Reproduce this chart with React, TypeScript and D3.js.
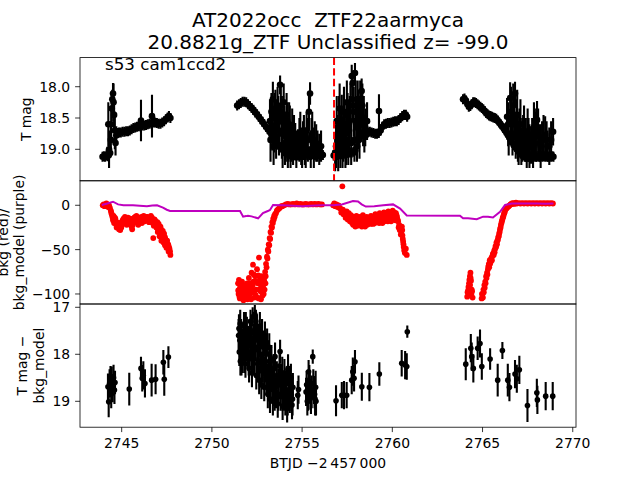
import React from 'react';
import * as d3 from 'd3';

// ---------- DATA ----------
// Top panel: TESS light curve [BTJD-2457000, T mag, error]
const lightCurve: [number, number, number][] = [
  [2743.94,19.12,0.08],[2744.01,19.11,0.08],[2744.08,19.12,0.08],[2744.15,19.10,0.08],[2744.22,19.11,0.08],[2744.29,19.09,0.08],[2744.36,19.06,0.08],
  [2744.26,18.60,0.35],[2744.30,19.00,0.30],[2744.40,18.85,0.25],[2744.42,18.60,0.30],[2744.45,18.35,0.20],[2744.48,18.20,0.15],[2744.52,18.11,0.17],
  [2744.55,18.25,0.30],[2744.58,18.45,0.25],[2744.62,18.70,0.30],[2744.66,18.90,0.20],[2744.70,18.78,0.15],
  [2744.75,18.74,0.08],[2744.85,18.73,0.08],[2744.95,18.73,0.08],[2745.05,18.72,0.08],[2745.15,18.72,0.08],[2745.25,18.71,0.08],[2745.35,18.71,0.08],
  [2745.45,18.70,0.08],[2745.55,18.68,0.08],[2745.65,18.66,0.08],[2745.75,18.65,0.08],[2745.85,18.64,0.08],[2745.95,18.63,0.08],[2746.05,18.63,0.08],
  [2746.07,18.54,0.33],[2746.15,18.62,0.08],[2746.25,18.62,0.08],[2746.35,18.61,0.08],[2746.45,18.60,0.08],[2746.55,18.59,0.08],[2746.65,18.58,0.08],
  [2746.68,18.47,0.34],[2746.75,18.57,0.08],[2746.85,18.57,0.08],[2746.95,18.58,0.08],[2747.05,18.59,0.08],[2747.15,18.59,0.08],[2747.25,18.57,0.08],
  [2747.35,18.55,0.08],[2747.45,18.52,0.08],[2747.55,18.49,0.08],[2747.62,18.47,0.08],[2747.70,18.50,0.08],
  [2751.40,18.30,0.08],[2751.50,18.28,0.08],[2751.60,18.26,0.08],[2751.70,18.24,0.08],[2751.80,18.24,0.08],[2751.90,18.25,0.08],[2752.00,18.28,0.08],
  [2752.10,18.31,0.08],[2752.20,18.34,0.08],[2752.30,18.37,0.08],[2752.40,18.41,0.08],[2752.50,18.44,0.08],[2752.60,18.48,0.08],[2752.70,18.52,0.08],
  [2752.80,18.56,0.08],[2752.90,18.60,0.08],[2753.00,18.64,0.08],[2753.10,18.68,0.08],[2753.20,18.72,0.08],[2753.30,18.76,0.08],[2753.40,18.80,0.08],
  [2753.50,18.85,0.08],[2753.60,18.89,0.08],[2753.70,18.93,0.08],[2753.80,18.97,0.08],[2753.90,19.00,0.08],[2754.00,19.03,0.08],[2754.10,19.05,0.08],
  [2754.20,19.07,0.08],[2754.30,19.08,0.08],[2754.40,19.08,0.08],[2754.50,19.09,0.08],[2754.60,19.09,0.08],[2754.70,19.08,0.08],[2754.80,19.09,0.08],
  [2754.90,19.09,0.08],[2755.00,19.08,0.08],[2755.10,19.09,0.08],[2755.20,19.09,0.08],[2755.30,19.08,0.08],[2755.40,19.09,0.08],[2755.50,19.09,0.08],
  [2755.60,19.08,0.08],[2755.70,19.09,0.08],[2755.80,19.09,0.08],[2755.90,19.08,0.08],[2756.00,19.09,0.08],[2756.10,19.08,0.08],[2756.15,19.09,0.08],
  [2753.22,18.55,0.35],[2753.30,18.40,0.30],[2753.38,18.20,0.28],[2753.45,18.70,0.35],[2753.52,18.35,0.30],[2753.60,18.60,0.40],[2753.68,18.50,0.35],
  [2753.78,17.97,0.15],[2753.82,18.30,0.30],[2753.88,18.75,0.40],[2753.95,18.45,0.30],[2754.02,18.65,0.35],[2754.10,18.80,0.40],[2754.18,18.55,0.30],
  [2754.25,18.85,0.35],[2754.32,18.70,0.40],[2754.40,18.90,0.30],[2754.50,18.95,0.30],[2754.62,18.88,0.30],[2754.77,18.93,0.25],[2754.85,18.85,0.35],
  [2754.95,18.95,0.30],[2755.05,18.85,0.30],[2755.15,18.95,0.30],[2755.25,18.70,0.30],[2755.38,18.40,0.30],[2755.44,18.11,0.18],[2755.52,18.80,0.30],
  [2755.60,18.90,0.25],[2755.70,18.85,0.30],[2755.85,18.95,0.25],
  [2753.25,18.85,0.35],[2753.34,18.62,0.40],[2753.42,18.95,0.30],[2753.48,18.50,0.40],[2753.56,18.80,0.35],[2753.64,18.35,0.35],[2753.72,18.70,0.40],
  [2753.85,18.55,0.40],[2753.92,18.95,0.35],[2753.98,18.25,0.30],[2754.05,18.90,0.35],[2754.14,18.45,0.35],[2754.21,18.95,0.35],[2754.28,18.60,0.35],
  [2754.36,18.95,0.35],[2754.45,18.70,0.35],[2754.55,18.80,0.35],[2754.68,19.00,0.30],[2754.90,18.75,0.35],[2755.00,19.00,0.30],[2755.10,18.80,0.35],
  [2755.20,19.00,0.30],[2755.32,18.85,0.35],[2755.48,19.00,0.30],[2755.56,18.75,0.35],[2755.65,19.00,0.30],[2755.78,18.90,0.30],[2755.95,19.00,0.25],
  [2756.05,18.95,0.25],
  [2756.75,19.10,0.08],[2756.85,19.10,0.08],[2756.95,19.09,0.08],[2757.05,19.08,0.08],[2757.15,19.08,0.08],[2757.25,19.07,0.08],[2757.35,19.07,0.08],
  [2757.45,19.06,0.08],[2757.55,19.06,0.08],[2757.65,19.05,0.08],[2757.75,19.05,0.08],[2757.85,19.04,0.08],[2757.95,19.02,0.08],[2758.05,18.95,0.08],
  [2758.15,18.85,0.08],[2758.25,18.78,0.08],[2758.35,18.75,0.08],[2758.45,18.74,0.08],[2758.55,18.73,0.08],[2758.65,18.73,0.08],[2758.75,18.72,0.08],
  [2758.85,18.73,0.08],[2758.95,18.74,0.08],[2759.05,18.75,0.08],[2759.15,18.75,0.08],[2759.25,18.74,0.08],[2759.35,18.70,0.08],[2759.45,18.64,0.08],
  [2759.55,18.60,0.08],[2759.65,18.59,0.08],[2759.75,18.58,0.08],[2759.85,18.58,0.08],[2759.95,18.57,0.08],[2760.05,18.56,0.08],[2760.15,18.55,0.08],
  [2760.25,18.55,0.08],[2760.35,18.53,0.08],[2760.45,18.50,0.08],[2760.55,18.47,0.08],[2760.65,18.45,0.08],[2760.75,18.45,0.08],[2760.82,18.48,0.08],
  [2756.83,19.05,0.30],[2756.95,18.80,0.35],[2757.05,18.60,0.45],[2757.12,18.90,0.40],[2757.20,18.53,0.40],[2757.28,18.75,0.45],[2757.36,18.60,0.35],
  [2757.44,18.85,0.40],[2757.52,18.45,0.35],[2757.60,18.70,0.40],[2757.68,18.30,0.35],[2757.75,17.83,0.18],[2757.80,17.94,0.20],[2757.86,18.40,0.40],
  [2757.93,17.78,0.16],[2758.00,18.60,0.45],[2758.08,18.20,0.30],[2758.15,18.55,0.40],[2758.22,18.25,0.35],[2758.30,18.07,0.20],[2758.38,18.60,0.35],
  [2758.45,18.75,0.30],[2759.26,18.39,0.27],
  [2756.88,18.95,0.35],[2756.92,18.55,0.40],[2757.00,19.00,0.35],[2757.08,18.35,0.40],[2757.16,18.75,0.40],[2757.24,18.95,0.35],[2757.32,18.40,0.40],
  [2757.40,18.95,0.35],[2757.48,18.25,0.35],[2757.56,18.90,0.35],[2757.64,18.55,0.40],[2757.72,18.90,0.35],[2757.78,18.20,0.35],[2757.90,18.85,0.35],
  [2757.97,18.30,0.40],[2758.04,18.85,0.35],[2758.11,18.45,0.40],[2758.18,18.80,0.35],[2758.26,18.45,0.35],[2758.34,18.30,0.35],[2758.42,18.50,0.35],
  [2758.50,18.65,0.30],[2758.60,18.55,0.30],
  [2763.92,18.20,0.08],[2764.00,18.19,0.08],[2764.08,18.22,0.08],[2764.16,18.28,0.08],[2764.24,18.32,0.08],[2764.32,18.31,0.08],[2764.40,18.28,0.08],
  [2764.48,18.25,0.08],[2764.56,18.25,0.08],[2764.64,18.26,0.08],[2764.72,18.28,0.08],[2764.80,18.30,0.08],[2764.88,18.32,0.08],[2764.96,18.34,0.08],
  [2765.04,18.36,0.08],[2765.12,18.39,0.08],[2765.20,18.42,0.08],[2765.28,18.44,0.08],[2765.36,18.46,0.08],[2765.44,18.47,0.08],[2765.52,18.48,0.08],
  [2765.60,18.49,0.08],[2765.68,18.50,0.08],[2765.76,18.51,0.08],[2765.84,18.54,0.08],[2765.92,18.57,0.08],[2766.00,18.60,0.08],[2766.08,18.63,0.08],
  [2766.16,18.66,0.08],[2766.24,18.70,0.08],[2766.32,18.73,0.08],[2766.40,18.77,0.08],[2766.48,18.81,0.08],[2766.56,18.85,0.08],[2766.64,18.89,0.08],
  [2766.72,18.93,0.08],[2766.80,18.96,0.08],[2766.88,18.99,0.08],[2766.96,19.02,0.08],[2767.04,19.05,0.08],[2767.12,19.07,0.08],[2767.20,19.09,0.08],
  [2767.28,19.10,0.08],[2767.36,19.11,0.08],[2767.44,19.11,0.08],[2767.52,19.12,0.08],[2767.60,19.11,0.08],[2767.68,19.12,0.08],[2767.76,19.11,0.08],
  [2767.84,19.12,0.08],[2767.92,19.11,0.08],[2768.00,19.12,0.08],[2768.08,19.11,0.08],[2768.16,19.12,0.08],[2768.24,19.11,0.08],[2768.32,19.12,0.08],
  [2768.40,19.11,0.08],[2768.48,19.12,0.08],[2768.56,19.11,0.08],[2768.64,19.12,0.08],[2768.72,19.11,0.08],[2768.80,19.12,0.08],[2768.88,19.11,0.08],
  [2768.93,19.12,0.08],
  [2766.36,18.48,0.30],[2766.45,18.75,0.35],[2766.53,18.18,0.25],[2766.62,18.55,0.35],[2766.70,18.30,0.35],[2766.80,18.11,0.19],[2766.88,18.60,0.40],
  [2766.96,18.85,0.35],[2767.05,18.70,0.35],[2767.15,18.95,0.30],[2767.25,18.80,0.35],[2767.35,18.90,0.30],[2767.45,19.00,0.30],[2767.55,18.85,0.35],
  [2767.69,18.93,0.30],[2767.80,18.95,0.35],[2767.90,18.75,0.40],[2768.02,18.53,0.30],[2768.15,18.90,0.30],[2768.30,18.85,0.30],[2768.47,18.77,0.30],
  [2768.60,18.95,0.25],[2768.91,18.72,0.22],
  [2766.42,18.60,0.35],[2766.58,18.40,0.40],[2766.66,18.75,0.35],[2766.75,18.45,0.40],[2766.84,18.80,0.35],[2766.92,18.45,0.40],[2767.00,18.90,0.35],
  [2767.10,18.60,0.40],[2767.20,18.85,0.35],[2767.30,18.70,0.40],[2767.40,18.85,0.35],[2767.50,18.75,0.40],[2767.60,18.95,0.35],[2767.75,18.85,0.35],
  [2767.85,18.65,0.40],[2767.96,18.80,0.40],[2768.08,18.70,0.35],[2768.22,18.95,0.35],[2768.38,18.80,0.35],[2768.55,18.85,0.30],[2768.70,18.95,0.30],
  [2768.80,18.85,0.30],
];

// Middle panel: background flux (red points) [BTJD, bkg]
const bkgPoints: [number, number][] = [
  [2743.95,0],[2744.00,1],[2744.05,-1],[2744.10,0.5],[2744.15,2],[2744.20,1],[2744.25,-2],[2744.30,0],[2744.35,-3],
  [2744.40,-6],[2744.45,-10],[2744.50,-14],[2744.55,-12],[2744.60,-18],[2744.65,-15],[2744.70,-22],[2744.75,-20],[2744.80,-25],
  [2744.85,-27],[2744.90,-24],[2744.95,-21],[2745.00,-19],[2745.05,-17],[2745.10,-15],[2745.15,-16],[2745.20,-18],[2745.25,-20],
  [2745.30,-17],[2745.35,-14],[2745.40,-15],[2745.45,-18],[2745.50,-22],[2745.55,-24],[2745.60,-19],[2745.65,-16],[2745.70,-14],
  [2745.75,-13],[2745.80,-15],[2745.85,-17],[2745.90,-19],[2745.95,-16],[2746.00,-14],[2746.05,-15],[2746.10,-13],[2746.15,-16],
  [2746.20,-17],[2746.25,-15],[2746.30,-14],[2746.35,-13],[2746.40,-15],[2746.45,-17],[2746.50,-16],[2746.55,-14],[2746.60,-15],
  [2746.65,-16],[2746.70,-17],[2746.75,-37],[2746.75,-18],[2746.80,-20],[2746.85,-17],[2746.90,-19],[2746.95,-22],[2747.00,-25],
  [2747.00,-30],[2747.05,-21],[2747.10,-28],[2747.10,-35],[2747.15,-24],[2747.20,-30],[2747.20,-40],[2747.25,-34],[2747.30,-38],
  [2747.35,-32],[2747.40,-36],[2747.40,-45],[2747.45,-42],[2747.50,-45],[2747.55,-47],[2747.60,-52],[2747.65,-49],[2747.70,-56],
  [2744.42,-8],[2744.48,-12],[2744.52,-17],[2744.58,-20],[2744.62,-14],[2744.68,-18],[2744.72,-25],[2744.78,-23],[2744.82,-20],
  [2744.88,-22],[2744.92,-28],[2744.98,-25],[2745.02,-22],[2745.08,-20],[2745.12,-18],[2745.18,-13],[2745.22,-15],[2745.28,-22],
  [2745.32,-20],[2745.38,-17],[2745.42,-20],[2745.48,-15],[2745.52,-19],[2745.58,-27],[2745.62,-22],[2745.68,-19],[2745.72,-17],
  [2745.78,-18],[2745.82,-12],[2745.88,-14],[2745.92,-22],[2745.98,-19],[2746.02,-17],[2746.08,-18],[2746.12,-20],[2746.18,-13],
  [2746.22,-12],[2746.28,-18],[2746.32,-17],[2746.38,-16],[2746.42,-13],[2746.48,-14],[2746.52,-19],[2746.58,-18],[2746.62,-12],
  [2746.68,-14],[2746.72,-20],[2746.78,-23],[2746.82,-16],[2746.88,-21],[2746.92,-25],[2746.98,-19],[2747.02,-28],[2747.08,-24],
  [2747.12,-31],[2747.18,-27],[2747.22,-35],[2747.28,-29],[2747.32,-42],[2747.38,-40],[2747.42,-38],[2747.48,-48],[2747.52,-40],
  [2747.58,-44],[2747.62,-47],[2747.68,-52],
  [2751.45,-88],[2751.48,-100],[2751.52,-95],[2751.55,-105],[2751.60,-90],[2751.65,-102],[2751.70,-97],[2751.75,-107],[2751.80,-93],
  [2751.85,-100],[2751.90,-104],[2751.95,-88],[2752.00,-96],[2752.05,-82],[2752.10,-100],[2752.15,-91],[2752.20,-76],[2752.25,-98],
  [2752.28,-67],[2752.30,-86],[2752.35,-104],[2752.40,-80],[2752.45,-95],[2752.50,-72],[2752.55,-88],[2752.60,-105],[2752.61,-59],
  [2752.65,-84],[2752.70,-97],[2752.75,-80],[2752.80,-102],[2752.85,-90],[2752.90,-85],[2752.95,-75],[2753.00,-66],[2753.05,-58],
  [2751.46,-96],[2751.50,-84],[2751.53,-103],[2751.57,-92],[2751.62,-98],[2751.67,-86],[2751.72,-104],[2751.77,-90],[2751.82,-97],
  [2751.87,-93],[2751.92,-99],[2751.97,-106],[2752.02,-92],[2752.07,-104],[2752.12,-88],[2752.17,-106],[2752.22,-95],[2752.27,-90],
  [2752.32,-78],[2752.37,-96],[2752.42,-101],[2752.47,-86],[2752.52,-104],[2752.57,-79],[2752.63,-95],[2752.68,-89],[2752.72,-106],
  [2752.77,-92],[2752.82,-84],[2752.87,-100],[2752.92,-95],[2752.97,-88],
  [2752.98,-80],[2753.03,-70],[2753.08,-60],[2753.13,-52],[2753.18,-45],[2753.23,-38],[2753.28,-31],[2753.33,-25],[2753.38,-20],
  [2753.43,-16],[2753.48,-13],[2753.55,-9],[2753.65,-5],[2753.75,-3],[2753.85,-1],
  [2753.10,-50],[2753.15,-44],[2753.20,-37],[2753.25,-30],[2753.30,-24],[2753.35,-19],[2753.40,-15],[2753.45,-12],[2753.50,-10],
  [2753.60,-6],[2753.70,-4],[2753.80,-2],[2753.90,-1],[2754.00,0],[2754.10,1],[2754.20,1.5],[2754.30,1],[2754.40,1],[2754.50,1.5],
  [2754.60,1],[2754.70,2],[2754.80,1],[2754.90,1.5],[2755.00,1],[2755.10,1],[2755.20,1.5],[2755.30,1],[2755.40,1],[2755.50,1.5],
  [2755.60,1],[2755.70,1.5],[2755.80,1],[2755.90,1.5],[2756.00,1],[2756.10,1],
  [2756.72,0],[2756.78,2],[2756.84,-1],[2756.90,1],[2756.96,-2],[2757.02,0],[2757.08,-3],[2757.14,-4],[2757.20,-6],[2757.23,21.4],
  [2757.26,-5],[2757.32,-8],[2757.38,-9],[2757.44,-11],[2757.50,-10],[2757.56,-13],[2757.62,-12],[2757.68,-15],[2757.74,-14],
  [2757.80,-17],[2757.86,-13],[2757.92,-19],[2757.98,-16],[2758.04,-20],[2758.10,-15],[2758.16,-18],[2758.22,-22],[2758.28,-17],
  [2758.34,-14],[2758.40,-19],[2758.46,-21],[2758.52,-16],[2758.58,-13],[2758.64,-18],[2758.70,-20],[2758.76,-15],[2758.82,-12],
  [2758.88,-17],[2758.94,-21],[2759.00,-14],[2759.06,-10],[2759.12,-15],[2759.18,-19],[2759.24,-13],[2759.30,-9],[2759.36,-14],
  [2759.42,-17],[2759.48,-12],[2759.54,-8],[2759.60,-13],[2759.66,-16],[2759.72,-11],[2759.78,-7],[2759.84,-12],[2759.90,-15],
  [2759.96,-10],[2760.02,-6],[2760.08,-11],[2760.14,-14],[2760.20,-9],[2760.26,-13],[2760.32,-18],[2760.38,-22],[2760.44,-26],
  [2760.50,-30],[2760.53,-24],[2760.56,-34],[2760.60,-41],[2760.63,-47],[2760.66,-51],[2760.70,-54],[2760.75,-49],[2760.80,-56],
  [2757.17,-8],[2757.29,-10],[2757.41,-14],[2757.47,-7],[2757.53,-16],[2757.59,-9],[2757.65,-18],[2757.71,-11],[2757.77,-20],
  [2757.83,-22],[2757.89,-15],[2757.95,-24],[2758.01,-12],[2758.07,-23],[2758.13,-20],[2758.19,-13],[2758.25,-19],[2758.31,-24],
  [2758.37,-11],[2758.43,-16],[2758.49,-24],[2758.55,-19],[2758.61,-22],[2758.67,-14],[2758.73,-17],[2758.79,-21],[2758.85,-18],
  [2758.91,-14],[2758.97,-18],[2759.03,-20],[2759.09,-18],[2759.15,-12],[2759.21,-16],[2759.27,-20],[2759.33,-16],[2759.39,-11],
  [2759.45,-20],[2759.51,-15],[2759.57,-18],[2759.63,-9],[2759.69,-14],[2759.75,-18],[2759.81,-15],[2759.87,-9],[2759.93,-18],
  [2759.99,-13],[2760.05,-16],[2760.11,-8],[2760.17,-17],[2760.23,-11],[2760.29,-16],[2760.35,-25],[2760.41,-28],[2760.47,-33],
  [2760.55,-28],[2760.58,-38],[2760.62,-44],
  [2764.15,-103],[2764.20,-96],[2764.25,-88],[2764.30,-80],[2764.33,-76],[2764.36,-85],[2764.40,-95],[2764.45,-104],
  [2764.17,-98],[2764.22,-92],[2764.27,-84],[2764.31,-90],[2764.34,-82],[2764.38,-100],[2764.42,-97],
  [2764.95,-105],[2765.00,-100],[2765.05,-95],[2765.10,-90],[2765.15,-86],[2765.20,-80],[2765.25,-76],[2765.30,-72],[2765.35,-66],
  [2765.40,-62],[2765.45,-64],[2765.50,-59],[2765.55,-57],[2765.60,-54],[2765.65,-51],[2765.70,-49],[2765.75,-47],[2765.80,-44],
  [2765.85,-39],[2765.90,-35],[2765.95,-30],[2766.00,-25],[2766.05,-20],[2766.10,-16],[2766.15,-13],[2766.20,-9],[2766.25,-6],
  [2764.97,-100],[2765.02,-104],[2765.07,-98],[2765.12,-93],[2765.17,-88],[2765.22,-82],[2765.27,-78],[2765.32,-69],[2765.37,-70],
  [2765.42,-66],[2765.47,-61],[2765.52,-62],[2765.57,-55],[2765.62,-56],[2765.67,-53],[2765.72,-46],[2765.77,-42],[2765.82,-40],
  [2765.87,-36],[2765.92,-32],[2765.97,-27],[2766.02,-22],[2766.07,-18],[2766.12,-14],[2766.17,-11],[2766.22,-8],
  [2766.30,-4],[2766.35,-3],[2766.40,-2],[2766.45,-1],[2766.50,0],[2766.55,1],[2766.60,1.5],[2766.65,2.5],[2766.70,2],[2766.75,1.5],
  [2766.80,2.5],[2766.85,3],[2766.90,2],[2767.00,2.5],[2767.10,2],[2767.20,2.5],[2767.30,2],[2767.40,2.5],[2767.50,2],[2767.60,2.5],
  [2767.70,2],[2767.80,2.5],[2767.90,2],[2768.00,2.5],[2768.10,2],[2768.20,2.5],[2768.30,2],[2768.40,2.5],[2768.50,2],[2768.60,2.5],
  [2768.70,2],[2768.80,2.5],[2768.90,2],
];

// Middle panel: background model (purple line) [BTJD, bkg_model]
const bkgModel: [number, number][] = [
  [2743.90,0.3],[2744.20,2],[2744.52,4],[2744.80,1],[2745.10,0],[2745.63,0],[2746.00,-0.5],[2746.40,-1],[2746.70,-0.3],
  [2746.96,0],[2747.29,-2.7],[2747.50,-5],[2747.68,-6.4],[2751.56,-6.4],[2751.73,-12.8],[2751.90,-12.2],[2752.00,-11.7],
  [2752.20,-12.5],[2752.56,-14.7],[2752.83,-8.7],[2753.10,-6.5],[2753.22,-5.3],[2753.39,0.3],[2753.94,0],[2754.50,-0.5],
  [2755.00,-1],[2755.50,-0.5],[2756.10,0],[2756.71,0],[2757.20,1],[2757.82,4.8],[2758.10,4.3],[2758.30,1],[2758.53,-1.4],
  [2759.00,-1],[2759.50,0],[2760.04,1],[2760.43,-3.8],[2760.80,-11.4],[2763.75,-11.7],[2763.92,-14.7],[2764.20,-14.5],
  [2764.68,-15.8],[2765.03,-12.8],[2765.30,-13],[2765.58,-13.8],[2765.97,-7.4],[2766.25,0.3],[2766.62,2],[2767.50,2],
  [2768.00,2],[2768.50,1.8],[2768.93,2],
];

// Bottom panel: T mag - bkg_model [BTJD, mag, error]
const diffPoints: [number, number, number][] = [
  [2744.24,18.69,0.28],[2744.28,19.01,0.33],[2744.33,18.62,0.30],[2744.38,18.55,0.30],[2744.42,18.85,0.30],[2744.45,18.51,0.25],
  [2744.50,18.72,0.30],[2744.55,18.50,0.28],[2744.60,18.76,0.30],[2744.63,18.60,0.25],[2745.42,18.74,0.35],[2746.07,18.30,0.25],
  [2746.14,18.51,0.28],[2746.20,18.45,0.30],[2746.29,18.62,0.30],[2746.66,18.55,0.35],[2746.88,18.53,0.32],[2747.31,18.17,0.26],
  [2747.36,18.53,0.35],[2747.59,18.06,0.23],
  [2751.50,17.45,0.30],[2751.52,17.95,0.30],[2751.55,17.70,0.35],[2751.58,18.15,0.30],[2751.62,17.55,0.30],[2751.66,17.85,0.30],
  [2751.70,18.05,0.35],[2751.74,17.60,0.30],[2751.78,17.40,0.30],[2751.82,17.90,0.30],[2751.86,18.20,0.30],[2751.90,17.65,0.35],
  [2751.94,17.50,0.30],[2751.98,18.00,0.30],[2752.02,17.75,0.35],[2752.06,18.30,0.30],[2752.10,17.55,0.30],[2752.14,17.30,0.25],
  [2752.18,17.95,0.35],[2752.22,18.40,0.30],[2752.26,17.20,0.20],[2752.30,17.65,0.30],[2752.34,18.10,0.35],[2752.38,17.15,0.20],
  [2752.42,17.85,0.30],[2752.46,18.45,0.30],[2752.50,17.45,0.30],[2752.54,18.20,0.30],[2752.58,17.70,0.35],[2752.62,18.55,0.30],
  [2752.66,17.40,0.30],[2752.70,18.00,0.35],[2752.74,18.65,0.30],[2752.78,17.55,0.30],[2752.82,18.30,0.30],[2752.86,17.85,0.35],
  [2752.90,18.70,0.30],[2752.94,17.60,0.30],[2752.98,18.15,0.30],[2753.02,18.50,0.35],[2753.06,17.75,0.30],[2753.10,18.85,0.30],
  [2753.14,18.25,0.30],[2753.18,17.85,0.30],[2753.22,18.95,0.30],[2753.26,18.40,0.35],[2753.30,18.10,0.30],[2753.34,18.70,0.30],
  [2753.38,19.00,0.30],[2753.42,18.30,0.30],[2753.46,18.55,0.35],[2753.50,18.05,0.30],[2753.55,18.85,0.30],[2753.60,18.45,0.30],
  [2753.65,19.05,0.30],[2753.70,18.65,0.35],[2753.75,18.25,0.30],[2753.78,17.94,0.25],[2753.82,18.90,0.30],[2753.87,18.55,0.30],
  [2753.92,19.10,0.30],[2753.97,18.75,0.35],[2754.02,18.40,0.30],[2754.07,19.00,0.30],[2754.12,18.60,0.30],[2754.17,19.15,0.30],
  [2754.22,18.30,0.30],[2754.27,18.85,0.35],[2754.32,18.95,0.30],[2754.38,18.50,0.30],[2754.44,19.08,0.30],[2754.49,18.70,0.30],
  [2751.48,17.60,0.35],[2751.57,17.35,0.30],[2751.64,18.10,0.35],[2751.72,17.80,0.35],[2751.80,18.10,0.30],[2751.88,17.45,0.35],
  [2751.96,17.80,0.35],[2752.04,18.10,0.35],[2752.12,17.80,0.35],[2752.20,17.50,0.30],[2752.28,18.00,0.35],[2752.36,17.55,0.35],
  [2752.44,17.30,0.25],[2752.52,17.90,0.35],[2752.60,18.15,0.35],[2752.68,17.75,0.35],[2752.76,18.35,0.35],[2752.84,18.00,0.35],
  [2752.92,18.40,0.35],[2753.00,17.95,0.35],[2753.08,18.55,0.35],[2753.16,18.60,0.35],[2753.24,18.15,0.35],[2753.32,18.45,0.35],
  [2753.40,18.75,0.35],[2753.48,18.90,0.30],[2753.58,18.65,0.35],[2753.68,18.85,0.35],[2753.80,18.60,0.35],[2753.90,18.40,0.35],
  [2754.00,18.85,0.35],[2754.10,18.75,0.35],[2754.20,19.00,0.30],[2754.30,18.65,0.35],[2754.40,18.85,0.35],[2754.47,18.95,0.35],
  [2754.76,18.87,0.30],[2754.80,18.75,0.30],[2755.22,18.80,0.30],[2755.29,19.00,0.30],[2755.36,18.37,0.25],[2755.40,18.58,0.35],
  [2755.46,18.88,0.30],[2755.49,18.92,0.35],[2755.59,18.05,0.15],[2755.62,18.62,0.30],[2755.66,18.76,0.30],[2755.72,18.95,0.35],
  [2755.77,19.00,0.30],[2755.25,18.65,0.30],[2755.33,18.85,0.35],[2755.43,18.70,0.35],[2755.53,18.80,0.35],[2755.69,18.85,0.30],
  [2755.75,18.70,0.35],
  [2756.88,18.99,0.33],[2757.20,18.87,0.28],[2757.32,18.87,0.30],[2757.47,18.87,0.28],[2757.75,18.55,0.30],[2757.81,18.37,0.30],
  [2757.88,18.51,0.28],[2757.93,18.16,0.25],[2758.31,18.69,0.30],[2758.73,18.70,0.30],[2759.28,18.42,0.25],[2760.52,18.19,0.28],
  [2760.71,18.23,0.30],[2760.80,18.26,0.28],[2760.83,17.52,0.13],
  [2764.07,18.21,0.34],[2764.35,17.87,0.30],[2764.40,18.05,0.30],[2764.49,18.30,0.30],[2764.73,17.87,0.25],[2764.86,17.77,0.30],
  [2764.96,18.26,0.28],[2765.42,18.10,0.23],[2765.84,18.55,0.35],[2766.10,17.92,0.18],[2766.40,18.55,0.35],[2766.49,18.70,0.30],
  [2766.80,18.42,0.30],[2766.90,18.52,0.30],[2767.04,18.33,0.30],[2767.49,19.09,0.35],[2768.01,18.82,0.30],[2768.04,18.97,0.30],
  [2768.50,18.89,0.30],[2768.89,18.89,0.30],
];

const peakTime = 2756.77;
const xTicks = [2745, 2750, 2755, 2760, 2765, 2770];
const topTicks = [18.0, 18.5, 19.0];
const midTicks = [0, -50, -100];
const botTicks = [17, 18, 19];
const titleLines = ['AT2022occ  ZTF22aarmyca', '20.8821g_ZTF Unclassified z= -99.0'];
const sectorLabel = 's53 cam1ccd2';

// ---------- LAYOUT ----------
const W = 640, H = 480;
const L = 80, R = 576;
const T0 = 57.6, T1 = 180.8, T2 = 304, T3 = 427.2;
const FONT = 'DejaVu Sans, Liberation Sans, sans-serif';
const TICK_FS = 13.9;

const fmtNeg = (v: number, digits: number) => v.toFixed(digits).replace('-', '\u2212');

export default function App() {
  const x = d3.scaleLinear().domain([2742.69, 2770.18]).range([L, R]);
  const yTop = d3.scaleLinear().domain([17.535, 19.503]).range([T0, T1]);
  const yMid = d3.scaleLinear().domain([27.6, -111.3]).range([T1, T2]);
  const yBot = d3.scaleLinear().domain([16.93, 19.551]).range([T2, T3]);
  const modelPath = d3.line<[number, number]>().x(d => x(d[0])).y(d => yMid(d[1]))(bkgModel) || '';

  const yAxis = (scale: d3.ScaleLinear<number, number>, ticks: number[], digits: number) => (
    <g>
      {ticks.map(t => (
        <g key={t}>
          <line x1={L - 4.9} x2={L} y1={scale(t)} y2={scale(t)} stroke="#000" strokeWidth={0.8} />
          <text x={L - 9.8} y={scale(t) + 5} textAnchor="end" fontSize={TICK_FS} fontFamily={FONT}>{fmtNeg(t, digits)}</text>
        </g>
      ))}
    </g>
  );

  const errPanel = (pts: [number, number, number][], ys: d3.ScaleLinear<number, number>, r: number) => (
    <g>
      {pts.map((d, i) => (
        <line key={'e' + i} x1={x(d[0])} x2={x(d[0])} y1={ys(d[1] - d[2])} y2={ys(d[1] + d[2])} stroke="#000" strokeWidth={2.1} />
      ))}
      {pts.map((d, i) => (
        <circle key={'m' + i} cx={x(d[0])} cy={ys(d[1])} r={r} fill="#000" />
      ))}
    </g>
  );

  return (
    <svg width={W} height={H} viewBox={`0 0 ${W} ${H}`} style={{ position: 'absolute', left: 0, top: 0, background: '#fff' }}>
      <defs>
        <clipPath id="cTop"><rect x={L} y={T0} width={R - L} height={T1 - T0} /></clipPath>
        <clipPath id="cMid"><rect x={L} y={T1} width={R - L} height={T2 - T1} /></clipPath>
        <clipPath id="cBot"><rect x={L} y={T2} width={R - L} height={T3 - T2} /></clipPath>
      </defs>
      <rect x={0} y={0} width={W} height={H} fill="#fff" />

      {titleLines.map((s, i) => (
        <text key={i} x={(L + R) / 2} y={26.7 + i * 21.8} textAnchor="middle" fontSize={20} fontFamily={FONT} style={{ whiteSpace: 'pre' }}>{s}</text>
      ))}

      <g clipPath="url(#cTop)">
        {errPanel(lightCurve, yTop, 3.3)}
        <line x1={x(peakTime)} x2={x(peakTime)} y1={T0} y2={T1} stroke="#ff0000" strokeWidth={2} strokeDasharray="7.4 3.2" />
      </g>
      <text x={105} y={70} fontSize={16.7} fontFamily={FONT}>{sectorLabel}</text>
      {yAxis(yTop, topTicks, 1)}
      <text transform={`translate(31,${(T0 + T1) / 2}) rotate(-90)`} textAnchor="middle" fontSize={TICK_FS} fontFamily={FONT}>T mag</text>

      <g clipPath="url(#cMid)">
        {bkgPoints.map((d, i) => (
          <circle key={i} cx={x(d[0])} cy={yMid(d[1])} r={2.9} fill="#ff0000" />
        ))}
        <path d={modelPath} fill="none" stroke="#bf00bf" strokeWidth={2} />
      </g>
      {yAxis(yMid, midTicks, 0)}
      <text transform={`translate(7.5,${(T1 + T2) / 2}) rotate(-90)`} textAnchor="middle" fontSize={TICK_FS} fontFamily={FONT}>bkg (red)/</text>
      <text transform={`translate(24,${(T1 + T2) / 2}) rotate(-90)`} textAnchor="middle" fontSize={TICK_FS} fontFamily={FONT}>bkg_model (purple)</text>

      <g clipPath="url(#cBot)">
        {errPanel(diffPoints, yBot, 2.8)}
      </g>
      {yAxis(yBot, botTicks, 0)}
      <text transform={`translate(27,${(T2 + T3) / 2}) rotate(-90)`} textAnchor="middle" fontSize={TICK_FS} fontFamily={FONT}>T mag {'\u2212'}</text>
      <text transform={`translate(43.5,${(T2 + T3) / 2}) rotate(-90)`} textAnchor="middle" fontSize={TICK_FS} fontFamily={FONT}>bkg_model</text>

      {xTicks.map(t => (
        <g key={t}>
          <line x1={x(t)} x2={x(t)} y1={T3} y2={T3 + 4.9} stroke="#000" strokeWidth={0.8} />
          <text x={x(t)} y={447.5} textAnchor="middle" fontSize={TICK_FS} fontFamily={FONT}>{t}</text>
        </g>
      ))}
      <text x={(L + R) / 2} y={467.5} textAnchor="middle" fontSize={TICK_FS} fontFamily={FONT}>BTJD {'\u22122\u2009457\u2009000'}</text>

      {[[T0, T1], [T1, T2], [T2, T3]].map(([a, b], i) => (
        <rect key={i} x={L} y={a} width={R - L} height={b - a} fill="none" stroke="#000" strokeWidth={0.8} />
      ))}
    </svg>
  );
}
